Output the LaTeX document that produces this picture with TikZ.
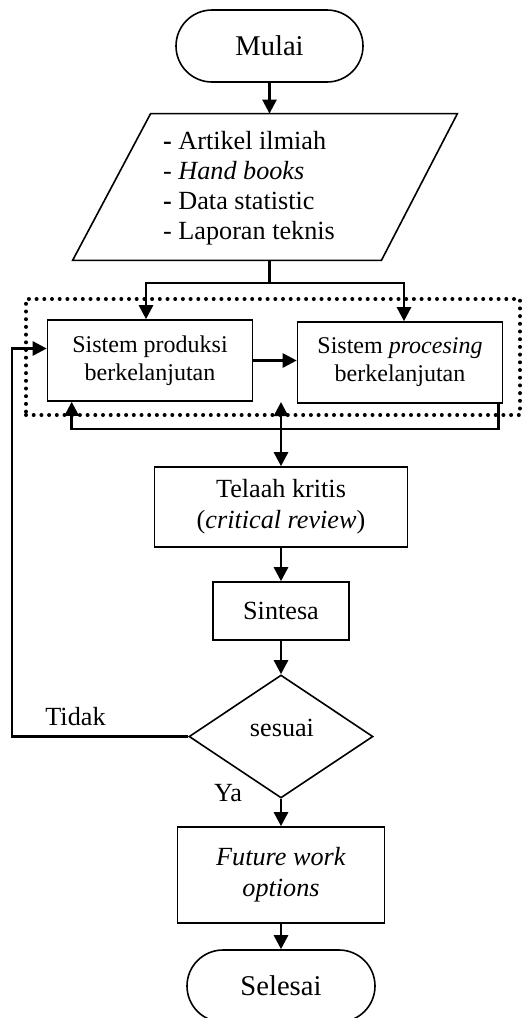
\documentclass[tikz,border=0pt]{standalone}
\usepackage{fontspec}
\setmainfont{Liberation Serif}
\usepackage{tikz}
\usetikzlibrary{arrows.meta,shapes.geometric}
\tikzstyle{node:terminal}=[draw,line width=0.8pt,rounded corners=18pt,minimum width=93.5pt,minimum height=36pt,font=\fontsize{14.3}{16}\selectfont]
\tikzstyle{node:data}=[minimum width=192pt,minimum height=73pt,inner sep=0pt]
\tikzstyle{draw:shape}=[line width=0.8pt]
\tikzstyle{node:datatext}=[align=left,inner sep=0pt,font=\fontsize{13.1}{15}\selectfont]
\tikzstyle{node:group}=[draw,line width=2pt,dash pattern=on 0pt off 3.85pt,line cap=round,minimum width=247pt,minimum height=58pt,inner sep=0pt]
\tikzstyle{node:system}=[draw,line width=0.8pt,align=center,minimum width=102.5pt,minimum height=40.5pt,font=\fontsize{12}{14}\selectfont]
\tikzstyle{node:process}=[draw,line width=0.8pt,align=center,font=\fontsize{13.1}{15.5}\selectfont]
\tikzstyle{node:decision}=[draw,diamond,line width=0.8pt,minimum width=92pt,minimum height=61.5pt,inner sep=0pt]
\tikzstyle{node:label}=[inner sep=0pt,font=\fontsize{13.1}{15.5}\selectfont]
\tikzstyle{draw:line}=[line width=1.3pt]
\tikzstyle{draw:connection}=[-{Triangle[length=7pt,width=7pt]},line width=1.3pt]
\tikzstyle{draw:both}=[{Triangle[length=7pt,width=7pt]}-{Triangle[length=7pt,width=7pt]},line width=1.3pt]

\begin{document}
\begin{tikzpicture}[x=0.5pt,y=-0.5pt]
        \useasboundingbox (0,0) rectangle (521,1018);

        % Start and sources
        \node[node:terminal] (mulai) at (269.5,46) {Mulai};
        \node[node:data] (data) at (265,187) {};
        \draw[draw:shape] ([xshift=39pt]data.north west) -- (data.north east)
            -- ([xshift=-38pt]data.south east) -- (data.south west) -- cycle;
        \node[node:datatext] (datatext) at (249,188) {\textbf{-} Artikel ilmiah\\- \textit{Hand books}\\\textbf{-} Data statistic\\- Laporan teknis};

        % Dotted group with both systems
        \node[node:group] (grup) at (273,357) {};
        \node[node:system] (produksi) at (150,360.5) {Sistem produksi\\berkelanjutan};
        \node[node:system] (procesing) at (400,362.5) {Sistem \textit{procesing}\\berkelanjutan};

        % Review steps
        \node[node:process,minimum width=126.5pt,minimum height=40pt] (telaah) at (281,507) {Telaah kritis\\(\textit{critical review})};
        \node[node:process,minimum width=68pt,minimum height=29pt] (sintesa) at (281,611) {Sintesa};
        \node[node:decision] (sesuai) at (281,736.5) {};
        \node[node:label] (sesuaitext) at (282,728) {sesuai};
        \node[node:process,minimum width=103.5pt,minimum height=48pt] (future) at (281,875) {\textit{Future work}\\\textit{options}};
        \node[node:terminal,minimum width=94pt] (selesai) at (281,986) {Selesai};

        % Branch labels
        \node[node:label] (tidak) at (75.5,717) {Tidak};
        \node[node:label] (ya) at (228,793) {Ya};

        % Helper points
        \coordinate (split) at (269.5,283);
        \coordinate (balik) at (281,402);
        \coordinate (kiri) at (12,736.5);

        % Connections
        \draw[draw:connection] (mulai) -- (mulai.south |- data.north);
        \draw[draw:line] (mulai.south |- data.south) -- (split);
        \draw[draw:connection] (split) -| ([xshift=-2pt]produksi.north);
        \draw[draw:connection] (split) -| ([xshift=2pt]procesing.north);
        \draw[draw:connection] (produksi.east) -- (produksi.east -| procesing.west);
        \draw[draw:connection] ([xshift=-2.5pt]procesing.south east) -- ++(0,25) -| ([xshift=12.5pt]produksi.south west);
        \draw[draw:both] (balik) -- (telaah.north);
        \draw[draw:connection] (telaah) -- (sintesa);
        \draw[draw:connection] (sintesa) -- (sesuai);
        \draw[draw:connection] (sesuai) -- (future);
        \draw[draw:connection] (future) -- (selesai);
        \draw[draw:connection] (sesuai.west) -- (kiri) |- ([yshift=6pt]produksi.west);

    \end{tikzpicture}
\end{document}
